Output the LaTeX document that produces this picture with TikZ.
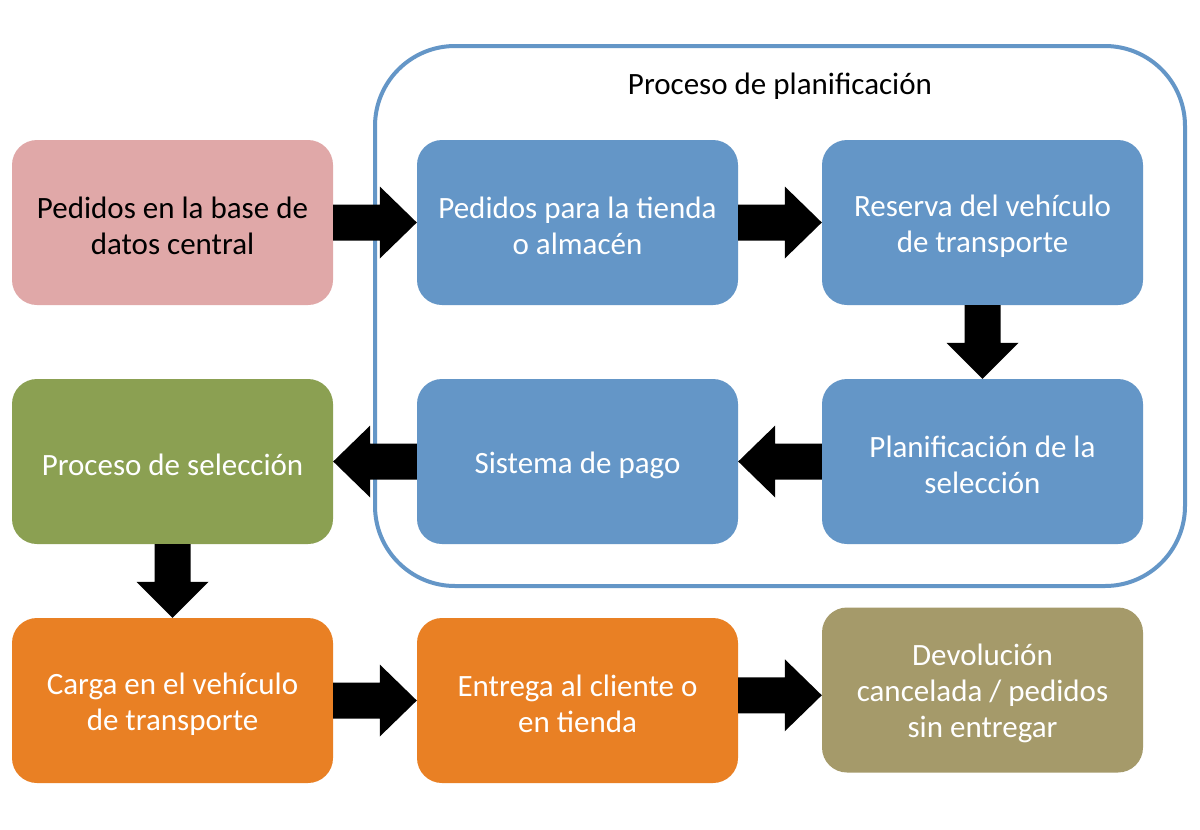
\documentclass[tikz,border=0pt]{standalone}
\usepackage{fontspec}
\setmainfont{Carlito}
\usetikzlibrary{calc}
\definecolor{cpink}{RGB}{224,168,168}
\definecolor{cblue}{RGB}{100,150,199}
\definecolor{cgreen}{RGB}{139,160,82}
\definecolor{corange}{RGB}{233,128,36}
\definecolor{colive}{RGB}{165,154,106}
\definecolor{cframe}{RGB}{100,150,199}
\newcommand\fatR[2]{%
  \fill let \p1=(#1.east), \p2=(#2.west), \n1={(\y1+\y2)/2} in
    (\x1,\n1+18) -- (\x2-37,\n1+18) -- (\x2-37,\n1+36) -- (\x2,\n1)
    -- (\x2-37,\n1-36) -- (\x2-37,\n1-18) -- (\x1,\n1-18) -- cycle;}
\newcommand\fatL[2]{%
  \fill let \p1=(#1.west), \p2=(#2.east), \n1={(\y1+\y2)/2} in
    (\x1,\n1+18) -- (\x2+37,\n1+18) -- (\x2+37,\n1+36) -- (\x2,\n1)
    -- (\x2+37,\n1-36) -- (\x2+37,\n1-18) -- (\x1,\n1-18) -- cycle;}
\newcommand\fatD[2]{%
  \fill let \p1=(#1.south), \p2=(#2.north), \n1={(\x1+\x2)/2} in
    (\n1-18,\y1) -- (\n1-18,\y2+36) -- (\n1-36,\y2+36) -- (\n1,\y2)
    -- (\n1+36,\y2+36) -- (\n1+18,\y2+36) -- (\n1+18,\y1) -- cycle;}
\begin{document}
\begin{tikzpicture}[x=1pt,y=-1pt,
  box/.style={rounded corners=25pt, minimum width=321pt, minimum height=165pt,
    inner sep=0pt, align=center, text=white,
    font=\fontsize{31}{36}\selectfont},
]
\useasboundingbox (0,0) rectangle (1200,830);
\fill[white] (0,0) rectangle (1200,830);
\draw[cframe, line width=4pt, rounded corners=80pt] (375,46) rectangle (1185,586);
\node (title) at (780,86) {\fontsize{31}{36}\selectfont Proceso de planificación};
\node[box, fill=cpink, text=black] (a) at (172.5,222.5) {\rule{0pt}{29pt}Pedidos en la base de\\datos central};
\node[box, fill=cblue] (b) at (577.5,222.5) {\rule{0pt}{29pt}Pedidos para la tienda\\o almacén};
\node[box, fill=cblue] (c) at (982.5,222.5) {\rule{0pt}{29pt}Reserva del vehículo\\de transporte};
\node[box, fill=cblue] (d) at (982.5,461.5) {\rule{0pt}{29pt}Planificación de la\\selección};
\node[box, fill=cblue] (e) at (577.5,461.5) {\rule{0pt}{29pt}Sistema de pago};
\node[box, fill=cgreen] (f) at (172.5,461.5) {\rule{0pt}{29pt}Proceso de selección};
\node[box, fill=corange] (g) at (172.5,700.5) {\rule{0pt}{29pt}Carga en el vehículo\\de transporte};
\node[box, fill=corange] (h) at (577.5,700.5) {\rule{0pt}{29pt}Entrega al cliente o\\en tienda};
\node[box, fill=colive] (i) at (982.5,690) {\rule{0pt}{29pt}Devolución\\cancelada / pedidos\\sin entregar};
\fatR{a}{b}
\fatR{b}{c}
\fatD{c}{d}
\fatL{d}{e}
\fatL{e}{f}
\fatD{f}{g}
\fatR{g}{h}
\fatR{h}{i}
\end{tikzpicture}
\end{document}
